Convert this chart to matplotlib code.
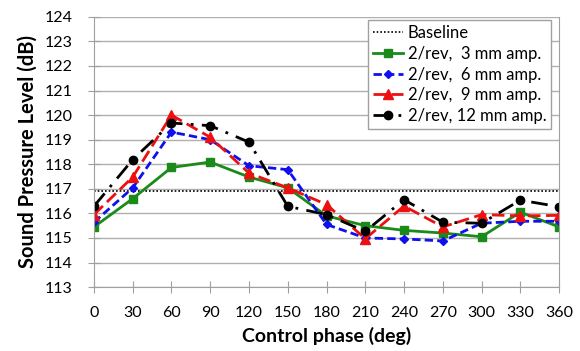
import matplotlib
matplotlib.use("Agg")
import matplotlib.pyplot as plt

plt.rcParams['font.family'] = ['Lato', 'DejaVu Sans']

phase = [0, 30, 60, 90, 120, 150, 180, 210, 240, 270, 300, 330, 360]
baseline = 116.9
amp3 = [115.45, 116.6, 117.87, 118.09, 117.48, 117.04, 115.9, 115.5, 115.31, 115.2, 115.05, 116.05, 115.45]
amp6 = [115.64, 117.04, 119.31, 119.0, 117.94, 117.78, 115.55, 115.0, 114.96, 114.88, 115.6, 115.68, 115.68]
amp9 = [115.95, 117.48, 120.0, 119.1, 117.64, 117.04, 116.36, 114.97, 116.3, 115.45, 115.95, 115.9, 115.92]
amp12 = [116.29, 118.19, 119.68, 119.57, 118.9, 116.29, 115.95, 115.27, 116.56, 115.64, 115.6, 116.54, 116.27]

fig = plt.figure(figsize=(5.8, 3.51), dpi=100)
ax = fig.add_axes([0.162, 0.182, 0.802, 0.77])

ax.axhline(baseline, color='black', ls=(0, (1, 1.2)), lw=1.2, label='Baseline')
ax.plot(phase, amp3, color='#1a8a1a', ls='-', lw=2, marker='s', ms=6,
        label='2/rev,  3 mm amp.')
ax.plot(phase, amp6, color='#1010ee', ls=(0, (3, 1.5)), lw=2, marker='D', ms=4,
        label='2/rev,  6 mm amp.')
ax.plot(phase, amp9, color='#ee1010', ls=(0, (4.5, 2)), lw=2, marker='^', ms=6.5,
        label='2/rev,  9 mm amp.')
ax.plot(phase, amp12, color='black', ls=(0, (6, 3, 1, 3)), lw=2, marker='o', ms=6,
        label='2/rev, 12 mm amp.')

ax.set_xlim(0, 360)
ax.set_ylim(113, 124)
ax.set_xticks(range(0, 361, 30))
ax.set_yticks(range(113, 125))
ax.grid(axis='y', color='#b0b0b0', lw=1)
ax.set_axisbelow(True)

for side in ['left', 'bottom', 'right']:
    ax.spines[side].set_color('#a0a0a0')
ax.spines['top'].set_visible(False)
ax.tick_params(axis='both', color='#a0a0a0', labelsize=11.5)
ax.tick_params(axis='x', direction='inout', length=9, pad=9)
ax.tick_params(axis='y', direction='inout', length=9, pad=11)

ax.set_xlabel('Control phase (deg)', fontsize=14, fontweight='bold', labelpad=5)
ax.set_ylabel('Sound Pressure Level (dB)', fontsize=14.5, fontweight='bold', labelpad=5)

leg = ax.legend(loc='upper right', bbox_to_anchor=(0.99, 1.0), fontsize=12,
                frameon=True, fancybox=False, handlelength=1.8, handletextpad=0.25,
                borderpad=0.3, labelspacing=0.28, borderaxespad=0.2)
leg.get_frame().set_edgecolor('#a0a0a0')
leg.get_frame().set_linewidth(1)
leg.get_frame().set_alpha(1)

fig.savefig('out.png', dpi=100)
